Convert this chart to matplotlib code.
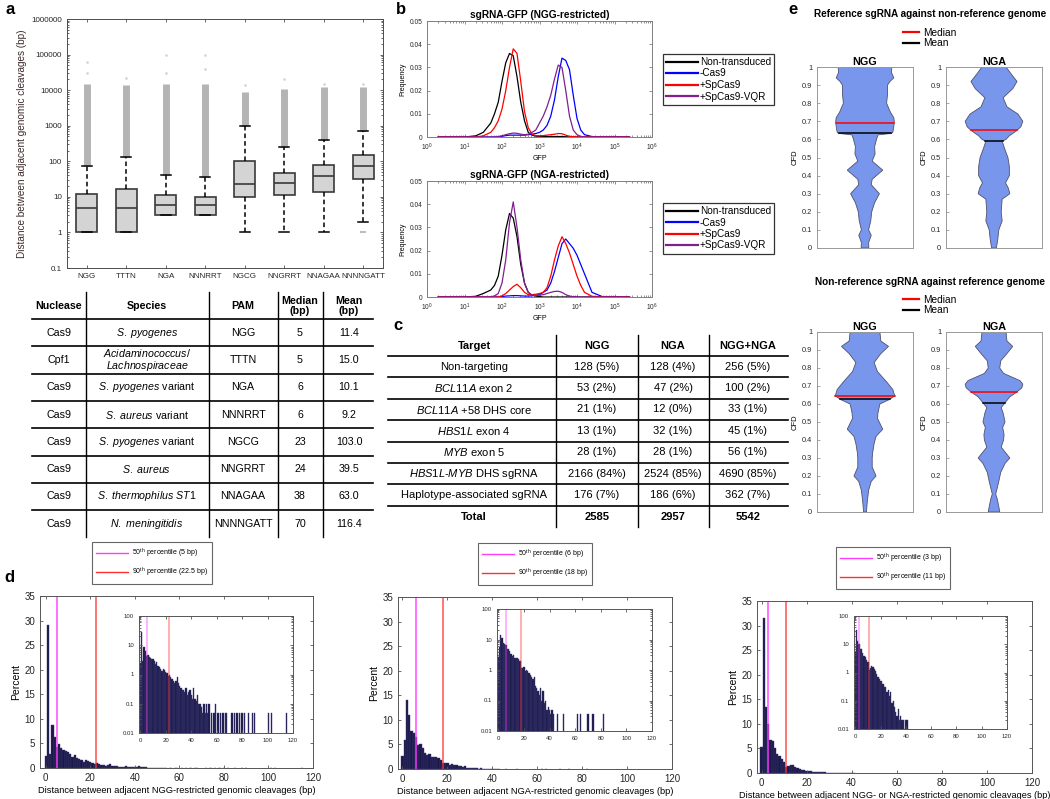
import matplotlib
matplotlib.use("Agg")
import matplotlib.pyplot as plt
import matplotlib.ticker as mticker
import numpy as np
from matplotlib.lines import Line2D

plt.rcParams["font.family"] = ["Liberation Sans", "DejaVu Sans"]
plt.rcParams["mathtext.fontset"] = "custom"
plt.rcParams["mathtext.rm"] = "Liberation Sans"
plt.rcParams["mathtext.it"] = "Liberation Sans:italic"
plt.rcParams["mathtext.bf"] = "Liberation Sans:bold"

W, H = 1050, 799

# ---------------- panel a : box plot + table ----------------
PAMS = ["NGG", "TTTN", "NGA", "NNNRRT", "NGCG", "NNGRRT", "NNAGAA", "NNNNGATT"]
BOX_Q1 = [1, 1, 3, 3, 10, 11, 14, 32]
BOX_MED = [5, 5, 6, 6, 23, 24, 38, 75]
BOX_Q3 = [12, 17, 11, 10, 100, 47, 77, 146]
WHIS_LO = [1, 1, 3, 3, 1, 1, 1, 2]
WHIS_HI = [75, 130, 42, 37, 1000, 250, 400, 690]
OUT_TOP = [15000, 14000, 15000, 15000, 9000, 11000, 12000, 12000]
FAR_OUT_POS = [1, 1, 2, 3, 3, 4, 4, 5, 6, 7, 8]
FAR_OUT_VAL = [30000, 60000, 22000, 30000, 100000, 100000, 40000, 14000, 20000, 15000, 15000]
LOW_OUT_POS = [8]
LOW_OUT_VAL = [1]

NUCLEASES = ["Cas9", "Cpf1", "Cas9", "Cas9", "Cas9", "Cas9", "Cas9", "Cas9"]
SPECIES = [r"$\mathit{S.\ pyogenes}$",
           "$\\mathit{Acidaminococcus/}$\n$\\mathit{Lachnospiraceae}$",
           r"$\mathit{S.\ pyogenes}$ variant",
           r"$\mathit{S.\ aureus}$ variant",
           r"$\mathit{S.\ pyogenes}$ variant",
           r"$\mathit{S.\ aureus}$",
           r"$\mathit{S.\ thermophilus\ ST1}$",
           r"$\mathit{N.\ meningitidis}$"]
MEDIAN_BP = [5, 5, 6, 6, 23, 24, 38, 70]
MEAN_BP = [11.4, 15.0, 10.1, 9.2, 103.0, 39.5, 63.0, 116.4]

# ---------------- panel b : GFP histograms ----------------
LOG_GFP = [0.3, 1.0, 1.3, 1.5, 1.7, 1.8, 1.9, 2.0, 2.1, 2.2, 2.3, 2.4, 2.5, 2.6, 2.7,
           2.8, 2.9, 3.0, 3.1, 3.2, 3.3, 3.4, 3.5, 3.6, 3.7, 3.8, 3.9, 4.0, 4.1, 4.2,
           4.4, 4.7, 5.4]
B_LABELS = ["Non-transduced", "-Cas9", "+SpCas9", "+SpCas9-VQR"]
B_COLORS = ["#000000", "#0000ff", "#ff0000", "#80208f"]
NGG_NONTRANS = [0, 0, 0.0005, 0.002, 0.006, 0.01, 0.015, 0.024, 0.032, 0.036, 0.035, 0.026,
                0.015, 0.007, 0.002, 0.0008, 0.0004, 0.0003, 0.0002, 0.0002, 0.0002, 0.0002,
                0.0002, 0.0002, 0.0001, 0, 0, 0, 0, 0, 0, 0, 0]
NGG_NOCAS9 = [0, 0, 0, 0, 0, 0, 0, 0.0003, 0.0006, 0.0008, 0.0008, 0.0008, 0.0008, 0.0008,
              0.001, 0.0012, 0.0015, 0.002, 0.003, 0.005, 0.009, 0.016, 0.026, 0.034, 0.033,
              0.029, 0.018, 0.008, 0.003, 0.001, 0.0002, 0, 0]
NGG_SPCAS9 = [0, 0, 0, 0.0005, 0.002, 0.004, 0.007, 0.012, 0.02, 0.03, 0.038, 0.036, 0.024,
              0.011, 0.004, 0.0012, 0.0006, 0.0005, 0.0006, 0.0008, 0.001, 0.0012, 0.0015,
              0.0014, 0.0008, 0.0003, 0.0001, 0, 0, 0, 0, 0, 0]
NGG_VQR = [0, 0, 0, 0, 0, 0, 0.0002, 0.0005, 0.001, 0.0014, 0.0017, 0.0016, 0.0012, 0.001,
           0.0012, 0.002, 0.003, 0.006, 0.009, 0.013, 0.018, 0.025, 0.031, 0.03, 0.02, 0.009,
           0.003, 0.001, 0.0003, 0, 0, 0, 0]
NGA_NONTRANS = [0, 0, 0.0003, 0.0015, 0.003, 0.005, 0.009, 0.018, 0.029, 0.036, 0.034, 0.026,
                0.014, 0.006, 0.002, 0.0008, 0.0004, 0.0002, 0, 0, 0, 0, 0, 0, 0, 0, 0, 0,
                0, 0, 0, 0, 0]
NGA_NOCAS9 = [0, 0, 0, 0, 0, 0, 0, 0.0002, 0.0004, 0.0005, 0.0006, 0.0006, 0.0005, 0.0004,
              0.0004, 0.0005, 0.0008, 0.001, 0.002, 0.003, 0.006, 0.011, 0.017, 0.023, 0.025,
              0.023, 0.021, 0.018, 0.014, 0.01, 0.002, 0, 0]
NGA_SPCAS9 = [0, 0, 0, 0, 0, 0, 0, 0.0005, 0.0015, 0.003, 0.0045, 0.0055, 0.004, 0.002, 0.001,
              0.001, 0.0012, 0.0015, 0.002, 0.004, 0.009, 0.016, 0.022, 0.026, 0.023, 0.019,
              0.014, 0.009, 0.005, 0.002, 0.0003, 0, 0]
NGA_VQR = [0, 0, 0, 0, 0, 0.0005, 0.0015, 0.006, 0.016, 0.032, 0.041, 0.03, 0.016, 0.006,
           0.002, 0.0008, 0.0006, 0.0008, 0.001, 0.0015, 0.002, 0.0024, 0.0025, 0.002, 0.001,
           0.0004, 0.0001, 0, 0, 0, 0, 0, 0]

# ---------------- panel c : sgRNA table ----------------
TARGETS = ["Non-targeting", r"$\mathit{BCL11A}$ exon 2", r"$\mathit{BCL11A}$ +58 DHS core",
           r"$\mathit{HBS1L}$ exon 4", r"$\mathit{MYB}$ exon 5",
           r"$\mathit{HBS1L}$-$\mathit{MYB}$ DHS sgRNA", "Haplotype-associated sgRNA"]
C_NGG = [128, 53, 21, 13, 28, 2166, 176]
C_NGG_PCT = [5, 2, 1, 1, 1, 84, 7]
C_NGA = [128, 47, 12, 32, 28, 2524, 186]
C_NGA_PCT = [4, 2, 0, 1, 1, 85, 6]
C_BOTH = [256, 100, 33, 45, 56, 4690, 362]
C_BOTH_PCT = [5, 2, 1, 1, 1, 85, 7]
C_TOTALS = [2585, 2957, 5542]

# ---------------- panel d : spacing histograms ----------------
D_NGG = [2.5, 29.0, 2.8, 8.7, 6.4, 4.2, 4.8, 4.0, 3.7, 3.5, 3.3, 2.9, 2.2, 2.7, 2.0, 1.8,
         1.6, 1.3, 1.6, 1.4, 1.2, 1.1, 0.9, 1.0, 0.8, 0.7, 0.6, 0.5, 0.6, 0.8, 0.5, 0.4,
         0.35, 0.3, 0.3, 0.25, 0.35, 0.2, 0.25, 0.3, 0.2, 0.15, 0.35, 0.15, 0.12, 0.2, 0.1,
         0.1, 0.08, 0.05, 0.1, 0.05, 0.1, 0.05, 0.1]
D_NGG_TAIL_X = [56, 58, 59, 61, 63, 65, 67, 68, 72, 74, 76, 78, 80, 82, 85, 88, 90, 101, 103, 115]
D_NGG_TAIL_Y = [0.05, 0.05, 0.1, 0.05, 0.05, 0.05, 0.05, 0.05, 0.05, 0.05, 0.05, 0.05, 0.05,
                0.05, 0.05, 0.05, 0.05, 0.05, 0.05, 0.05]
D_NGA = [2.6, 5.8, 14.0, 11.0, 7.8, 7.3, 6.5, 4.9, 5.0, 4.3, 3.3, 2.8, 3.0, 2.4, 2.5, 2.5,
         2.3, 1.9, 1.2, 1.2, 1.3, 0.9, 1.0, 0.9, 0.8, 0.7, 0.6, 0.5, 0.6, 0.3, 0.25, 0.2,
         0.15, 0.25, 0.1, 0.2, 0.08, 0.1, 0.05, 0.06, 0.05, 0.035, 0.05, 0.035]
D_NGA_TAIL_X = [46, 51, 62, 64, 70, 74, 82]
D_NGA_TAIL_Y = [0.035, 0.035, 0.035, 0.035, 0.035, 0.035, 0.035]
D_BOTH = [5.2, 31.5, 13.5, 10.0, 6.8, 6.6, 5.0, 3.8, 3.4, 2.8, 2.3, 1.2, 1.4, 1.7, 1.6, 1.3,
          1.1, 0.9, 0.7, 0.6, 0.5, 0.5, 0.4, 0.3, 0.3, 0.2, 0.25, 0.15, 0.2, 0.08, 0.1,
          0.06, 0.04, 0.03, 0.05, 0.02, 0.03, 0.02, 0.02, 0.01, 0.02, 0.02]
D_BOTH_TAIL_X = []
D_BOTH_TAIL_Y = []
D_P50 = [5, 6, 3]
D_P90 = [22.5, 18, 11]
D_XLABELS = ["Distance between adjacent NGG-restricted genomic cleavages (bp)",
             "Distance between adjacent NGA-restricted genomic cleavages (bp)",
             "Distance between adjacent NGG- or NGA-restricted genomic cleavages (bp)"]

# ---------------- panel e : CFD violins ----------------
VIO_TOP_NGG_Y = [0.0, 0.03, 0.07, 0.1, 0.15, 0.2, 0.25, 0.3, 0.35, 0.38, 0.43, 0.48, 0.52,
                 0.56, 0.6, 0.625, 0.633, 0.64, 0.67, 0.7, 0.72, 0.75, 0.8, 0.85, 0.9, 0.92,
                 0.94, 0.97, 1.0]
VIO_TOP_NGG_W = [0.08, 0.075, 0.13, 0.075, 0.12, 0.14, 0.2, 0.3, 0.13, 0.15, 0.37, 0.15, 0.21,
                 0.2, 0.24, 0.27, 0.55, 0.58, 0.6, 0.61, 0.6, 0.53, 0.45, 0.47, 0.47, 0.52,
                 0.6, 0.55, 0.56]
VIO_TOP_NGA_Y = [0.0, 0.05, 0.1, 0.15, 0.2, 0.27, 0.3, 0.33, 0.36, 0.4, 0.45, 0.5, 0.55,
                 0.59, 0.6, 0.62, 0.65, 0.67, 0.7, 0.74, 0.78, 0.83, 0.88, 0.92, 0.95, 1.0]
VIO_TOP_NGA_W = [0.05, 0.08, 0.1, 0.17, 0.15, 0.17, 0.33, 0.3, 0.24, 0.32, 0.32, 0.29, 0.22,
                 0.17, 0.25, 0.32, 0.48, 0.56, 0.6, 0.5, 0.27, 0.19, 0.39, 0.48, 0.39, 0.25]
VIO_BOT_NGG_Y = [0.0, 0.05, 0.12, 0.17, 0.2, 0.25, 0.3, 0.33, 0.38, 0.42, 0.46, 0.52, 0.55,
                 0.6, 0.625, 0.645, 0.68, 0.72, 0.78, 0.83, 0.88, 0.92, 0.95, 1.0]
VIO_BOT_NGG_W = [0.03, 0.045, 0.075, 0.13, 0.23, 0.15, 0.15, 0.16, 0.19, 0.23, 0.37, 0.26,
                 0.27, 0.31, 0.51, 0.62, 0.58, 0.46, 0.26, 0.19, 0.33, 0.49, 0.33, 0.31]
VIO_BOT_NGA_Y = [0.0, 0.03, 0.07, 0.1, 0.12, 0.17, 0.22, 0.27, 0.3, 0.36, 0.4, 0.43, 0.47,
                 0.5, 0.55, 0.58, 0.61, 0.64, 0.665, 0.69, 0.71, 0.73, 0.77, 0.8, 0.84, 0.88,
                 0.92, 0.95, 1.0]
VIO_BOT_NGA_W = [0.12, 0.1, 0.07, 0.035, 0.055, 0.1, 0.14, 0.23, 0.33, 0.15, 0.2, 0.21, 0.18,
                 0.23, 0.19, 0.15, 0.24, 0.33, 0.47, 0.58, 0.6, 0.54, 0.2, 0.12, 0.14, 0.27,
                 0.39, 0.27, 0.25]
VIO_MEDIANS = [0.69, 0.65, 0.645, 0.667]
VIO_MEANS = [0.633, 0.593, 0.627, 0.608]

fig = plt.figure(figsize=(W / 100, H / 100), dpi=100)
fig.patch.set_facecolor("white")


def px_axes(x0, y0, x1, y1):
    return fig.add_axes([x0 / W, 1 - y1 / H, (x1 - x0) / W, (y1 - y0) / H])


def matlab_box(ax, color="#4d4d4d", labelsize=5.5):
    for s in ax.spines.values():
        s.set_color(color)
        s.set_linewidth(0.7)
    ax.tick_params(direction="in", which="both", top=True, right=True, colors=color,
                   labelcolor="#262626", labelsize=labelsize, length=2.5, width=0.6)
    ax.tick_params(which="minor", length=1.5)


# overlay for tables and panel letters (pixel coordinates)
ov = fig.add_axes([0, 0, 1, 1])
ov.set_xlim(0, W)
ov.set_ylim(H, 0)
ov.axis("off")

for letter, (lx, ly) in zip("abcde", [(10, 9), (401, 9), (398, 325), (9, 578), (793, 9)]):
    ov.text(lx, ly, letter, fontsize=12, fontweight="bold", ha="center", va="center")

# ── a: box plot ────────────────────────────────────────────────────────────
ax_a = px_axes(67, 19, 383, 268)
pos = np.arange(1, len(PAMS) + 1)
stats = [dict(med=m, q1=q1, q3=q3, whislo=lo, whishi=hi, fliers=[])
         for m, q1, q3, lo, hi in zip(BOX_MED, BOX_Q1, BOX_Q3, WHIS_LO, WHIS_HI)]
ax_a.vlines(pos, WHIS_HI, OUT_TOP, color="#b4b4b4", lw=5, zorder=1)
ax_a.scatter(FAR_OUT_POS, FAR_OUT_VAL, s=1, color="#d8d8d8", zorder=1)
ax_a.scatter(LOW_OUT_POS, LOW_OUT_VAL, marker="_", s=20, color="#bdbdbd", zorder=1)
ax_a.bxp(stats, positions=pos, widths=0.52, capwidths=0.26, patch_artist=True,
         showfliers=False,
         boxprops=dict(facecolor="#d4d4d4", edgecolor="#3a3a3a", lw=1.2),
         whiskerprops=dict(color="black", ls=(0, (3, 2)), lw=1.1),
         capprops=dict(color="black", lw=1.1),
         medianprops=dict(color="#3a3a3a", lw=1.2))
ax_a.set_yscale("log")
ax_a.set_ylim(0.1, 1e6)
ax_a.set_xlim(0.5, 8.5)
ytk = [0.1, 1, 10, 100, 1000, 10000, 100000, 1000000]
ax_a.yaxis.set_major_locator(mticker.FixedLocator(ytk))
ax_a.set_yticklabels(["0.1", "1", "10", "100", "1000", "10000", "100000", "1000000"])
ax_a.set_xticks(pos)
ax_a.set_xticklabels(PAMS)
matlab_box(ax_a, labelsize=5.8)
ax_a.set_ylabel("Distance between adjacent genomic cleavages (bp)", fontsize=7.2,
                color="#3c2a2a", labelpad=3)

# ── a: table ───────────────────────────────────────────────────────────────
ta_cols = [59, 147, 243, 300, 349]
ta_vlines = [86, 209, 278, 323]
ta_head_y, ta_row_h = 319, 27.3
ta_left, ta_right = 32, 373
ta_fs = 7.7
for x, t in zip(ta_cols, ["Nuclease", "Species", "PAM", "Median\n(bp)", "Mean\n(bp)"]):
    ov.text(x, 306, t, ha="center", va="center", fontsize=ta_fs, fontweight="bold",
            linespacing=1.0)
for i in range(len(NUCLEASES)):
    cy = ta_head_y + ta_row_h * (i + 0.5)
    row = [NUCLEASES[i], SPECIES[i], PAMS[i], str(MEDIAN_BP[i]), f"{MEAN_BP[i]:.1f}"]
    for x, t in zip(ta_cols, row):
        ov.text(x, cy, t, ha="center", va="center", fontsize=ta_fs, linespacing=1.0)
    ov.plot([ta_left, ta_right], [ta_head_y + ta_row_h * i] * 2, color="black", lw=1.2)
for x in ta_vlines:
    ov.plot([x, x], [292, ta_head_y + ta_row_h * 8], color="black", lw=1.0)

# ── b: GFP histograms ──────────────────────────────────────────────────────
gfp = 10 ** np.array(LOG_GFP)
b_sets = [
    ((427, 21, 652, 137), "sgRNA-GFP (NGG-restricted)",
     [NGG_NONTRANS, NGG_NOCAS9, NGG_SPCAS9, NGG_VQR], (663, 54)),
    ((427, 181, 652, 297), "sgRNA-GFP (NGA-restricted)",
     [NGA_NONTRANS, NGA_NOCAS9, NGA_SPCAS9, NGA_VQR], (663, 203)),
]
for box, title, curves, (lx, ly) in b_sets:
    ax = px_axes(*box)
    handles = []
    for vals, col, lab in zip(curves, B_COLORS, B_LABELS):
        h, = ax.plot(gfp, vals, color=col, lw=0.9, label=lab)
        handles.append(h)
    ax.set_xscale("log")
    ax.set_xlim(1, 1e6)
    ax.set_ylim(0, 0.05)
    ax.set_yticks([0, 0.01, 0.02, 0.03, 0.04, 0.05])
    ax.set_yticklabels(["0", "0.01", "0.02", "0.03", "0.04", "0.05"])
    ax.xaxis.set_major_locator(mticker.FixedLocator([1, 10, 100, 1e3, 1e4, 1e5, 1e6]))
    matlab_box(ax, color="#808080", labelsize=4.8)
    ax.set_title(title, fontsize=7.3, fontweight="bold", pad=2.5)
    ax.set_ylabel("Frequency", fontsize=5, labelpad=2)
    ax.set_xlabel("GFP", fontsize=5, labelpad=1.5)
    leg = fig.legend(handles=handles, loc="upper left", bbox_to_anchor=(lx / W, 1 - ly / H),
                     fontsize=7.2, frameon=True, fancybox=False, edgecolor="black",
                     handlelength=3.2, handletextpad=0.2, labelspacing=0.15, borderpad=0.3,
                     borderaxespad=0)
    leg.get_frame().set_linewidth(0.9)
    for ln in leg.get_lines():
        ln.set_linewidth(1.6)

# ── c: table ───────────────────────────────────────────────────────────────
tc_cols = [474, 597, 673, 748]
tc_vlines = [556, 638, 709]
tc_head_y, tc_row_h = 356, 21.4
tc_left, tc_right = 388, 788
tc_fs = 8
for x, t in zip(tc_cols, ["Target", "NGG", "NGA", "NGG+NGA"]):
    ov.text(x, 346, t, ha="center", va="center", fontsize=tc_fs, fontweight="bold")
for i in range(len(TARGETS)):
    cy = tc_head_y + tc_row_h * (i + 0.5)
    row = [TARGETS[i], f"{C_NGG[i]} ({C_NGG_PCT[i]}%)", f"{C_NGA[i]} ({C_NGA_PCT[i]}%)",
           f"{C_BOTH[i]} ({C_BOTH_PCT[i]}%)"]
    for x, t in zip(tc_cols, row):
        ov.text(x, cy, t, ha="center", va="center", fontsize=tc_fs)
    ov.plot([tc_left, tc_right], [tc_head_y + tc_row_h * i] * 2, color="black", lw=1.2)
ov.plot([tc_left, tc_right], [tc_head_y + tc_row_h * 7] * 2, color="black", lw=1.2)
cy = tc_head_y + tc_row_h * 7.5
for x, t in zip(tc_cols, ["Total"] + [str(v) for v in C_TOTALS]):
    ov.text(x, cy, t, ha="center", va="center", fontsize=tc_fs, fontweight="bold")
for x in tc_vlines:
    ov.plot([x, x], [335, tc_head_y + tc_row_h * 8], color="black", lw=1.0)

# ── d: spacing histograms ──────────────────────────────────────────────────
BAR_FACE, BAR_EDGE = "#1b1849", "#3a3870"
MAG, RED = "#ff3cff", "#ff3030"
d_sets = [
    (D_NGG, D_NGG_TAIL_X, D_NGG_TAIL_Y, (40, 596, 313, 768), (139, 616, 293, 733),
     (152, 563), -2.6, 6.7),
    (D_NGA, D_NGA_TAIL_X, D_NGA_TAIL_Y, (398, 597, 672, 769), (497, 609, 652, 731),
     (535, 564), -2.0, 6.7),
    (D_BOTH, D_BOTH_TAIL_X, D_BOTH_TAIL_Y, (757, 601, 1032, 773), (854, 616, 1007, 729),
     (893, 568), -2.0, 6.6),
]
for k, (vals, tx, ty, box, ibox, (lcx, lcy), xl, xfs) in enumerate(d_sets):
    ax = px_axes(*box)
    ax.bar(np.arange(len(vals)), vals, width=1, color=BAR_FACE, edgecolor=BAR_EDGE, lw=0.3)
    ax.bar(tx, ty, width=1, color=BAR_FACE, edgecolor=BAR_EDGE, lw=0.3)
    ax.axvline(D_P50[k], color=MAG, lw=1.2, alpha=0.85)
    ax.axvline(D_P90[k], color=RED, lw=1.1, alpha=0.85)
    ax.set_xlim(xl, 120)
    ax.set_ylim(0, 35)
    ax.set_xticks(range(0, 121, 20))
    ax.set_yticks(range(0, 36, 5))
    matlab_box(ax, color="#555555", labelsize=7)
    ax.set_ylabel("Percent", fontsize=7.5, labelpad=2)
    ax.set_xlabel(D_XLABELS[k], fontsize=xfs, labelpad=2)

    ins = px_axes(*ibox)
    ins.bar(np.arange(len(vals)), vals, width=1, color=BAR_FACE, edgecolor=BAR_EDGE, lw=0.3)
    ins.bar(tx, ty, width=1, color=BAR_FACE, edgecolor=BAR_EDGE, lw=0.3)
    ins.axvline(D_P50[k], color=MAG, lw=1.2, alpha=0.45)
    ins.axvline(D_P90[k], color=RED, lw=1.2, alpha=0.45)
    ins.set_yscale("log")
    ins.set_ylim(0.01, 100)
    ins.set_xlim(-1, 120)
    ins.yaxis.set_major_locator(mticker.FixedLocator([0.01, 0.1, 1, 10, 100]))
    ins.yaxis.set_minor_locator(mticker.LogLocator(subs=np.arange(2, 10)))
    ins.yaxis.set_minor_formatter(mticker.NullFormatter())
    ins.set_yticklabels(["0.01", "0.1", "1", "10", "100"])
    ins.set_xticks(range(0, 121, 20))
    matlab_box(ins, color="#555555", labelsize=4.3)

    handles = [Line2D([], [], color=MAG, lw=1.0), Line2D([], [], color=RED, lw=1.0)]
    labels = [f"50$^{{\\mathrm{{th}}}}$ percentile ({D_P50[k]:g} bp)",
              f"90$^{{\\mathrm{{th}}}}$ percentile ({D_P90[k]:g} bp)"]
    leg = fig.legend(handles, labels, loc="center", bbox_to_anchor=(lcx / W, 1 - lcy / H),
                     fontsize=5, frameon=True, fancybox=False, edgecolor="#404040",
                     handlelength=4.6, handletextpad=0.6, labelspacing=0.9, borderpad=0.6,
                     borderaxespad=0)
    leg.get_frame().set_linewidth(0.8)

# ── e: violins ─────────────────────────────────────────────────────────────
VIO_FACE, VIO_EDGE = "#7896eb", "#50506e"
e_sets = [
    ((817, 67, 913, 248), "NGG", VIO_TOP_NGG_Y, VIO_TOP_NGG_W, 0),
    ((946, 67, 1042, 248), "NGA", VIO_TOP_NGA_Y, VIO_TOP_NGA_W, 1),
    ((817, 332, 913, 512), "NGG", VIO_BOT_NGG_Y, VIO_BOT_NGG_W, 2),
    ((946, 332, 1042, 512), "NGA", VIO_BOT_NGA_Y, VIO_BOT_NGA_W, 3),
]
for box, title, vy, vw, k in e_sets:
    ax = px_axes(*box)
    vy = np.array(vy)
    vw = np.array(vw)
    ax.fill(np.concatenate([vw, -vw[::-1]]), np.concatenate([vy, vy[::-1]]),
            facecolor=VIO_FACE, edgecolor=VIO_EDGE, lw=0.6)
    for lvl, col in [(VIO_MEANS[k], "black"), (VIO_MEDIANS[k], "red")]:
        hw = np.interp(lvl, vy, vw)
        ax.plot([-hw, hw], [lvl, lvl], color=col, lw=1.1)
    ax.set_xlim(-1, 1)
    ax.set_ylim(0, 1)
    ax.set_xticks([])
    ax.set_yticks(np.arange(0, 1.01, 0.1))
    ax.set_yticklabels(["0", "0.1", "0.2", "0.3", "0.4", "0.5", "0.6", "0.7", "0.8", "0.9", "1"])
    matlab_box(ax, color="#999999", labelsize=5.3)
    ax.tick_params(top=False, right=False)
    ax.set_ylabel("CFD", fontsize=5.5, labelpad=2)
    ax.set_title(title, fontsize=7.8, fontweight="bold", pad=1.5)

ov.text(930, 14, "Reference sgRNA against non-reference genome", ha="center", va="center",
        fontsize=7.2, fontweight="bold")
ov.text(930, 282, "Non-reference sgRNA against reference genome", ha="center", va="center",
        fontsize=7.2, fontweight="bold")
for ly in (38, 305):
    fig.legend([Line2D([], [], color="red", lw=1.6), Line2D([], [], color="black", lw=1.6)],
               ["Median", "Mean"], loc="center left", bbox_to_anchor=(903 / W, 1 - ly / H),
               fontsize=7.3, frameon=False, handlelength=1.6, handletextpad=0.4,
               labelspacing=0.05, borderpad=0, borderaxespad=0)

fig.savefig("out.png", dpi=100, facecolor="white")
